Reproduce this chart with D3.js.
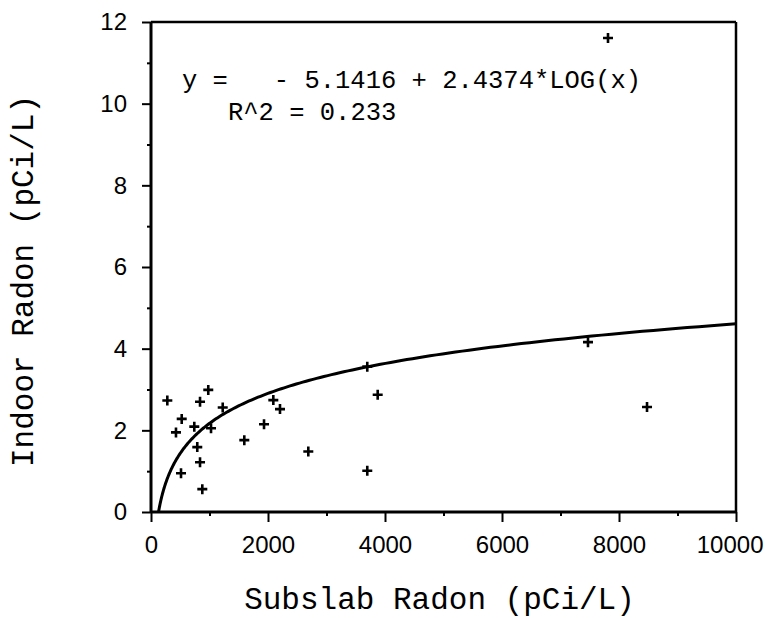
<!DOCTYPE html>
<html>
<head>
<meta charset="utf-8">
<script src="https://cdn.jsdelivr.net/npm/d3@7"></script>
<style>
  html, body { margin: 0; padding: 0; background: #fff; }
  svg { display: block; }
</style>
</head>
<body>
<svg id="chart" width="765" height="618"></svg>
<script>
// ---- data ----
const subslabRadon = [279, 979, 838, 1226, 525, 427, 740, 1026, 791, 838, 513, 877,
                      1595, 1932, 2091, 2205, 2689, 3697, 3875, 3697, 7470, 8479, 7812];
const indoorRadon  = [2.73, 2.99, 2.70, 2.56, 2.28, 1.95, 2.09, 2.05, 1.59, 1.22, 0.95, 0.56,
                      1.76, 2.15, 2.74, 2.52, 1.48, 3.56, 2.87, 1.01, 4.16, 2.57, 11.61];
const fitIntercept = -5.1416;
const fitSlope = 2.4374;           // y = a + b*log10(x)
const xMajorTicks = [0, 2000, 4000, 6000, 8000, 10000];
const xMinorTicks = [1000, 3000, 5000, 7000, 9000];
const yMajorTicks = [0, 2, 4, 6, 8, 10, 12];
const yMinorTicks = [1, 3, 5, 7, 9, 11];
const equationText = "y =   - 5.1416 + 2.4374*LOG(x)";
const r2Text = "R^2 = 0.233";
const xTitle = "Subslab Radon (pCi/L)";
const yTitle = "Indoor Radon (pCi/L)";

// ---- layout ----
const pL = 151, pR = 736, pT = 22, pB = 512;
const svg = d3.select("#chart");
const x = d3.scaleLinear().domain([0, 10000]).range([pL, pR]);
const y = d3.scaleLinear().domain([0, 12]).range([pB, pT]);

const tickFont = "'Liberation Sans', Arial, sans-serif";
const monoFont = "'Liberation Mono', 'Courier New', monospace";

// frame (top + right)
svg.append("line").attr("x1", pL).attr("x2", pR).attr("y1", pT).attr("y2", pT)
  .attr("stroke", "#000").attr("stroke-width", 2.5);
svg.append("line").attr("x1", pR).attr("x2", pR).attr("y1", pT).attr("y2", pB)
  .attr("stroke", "#000").attr("stroke-width", 2.5);

// x axis
const gxMaj = svg.append("g").attr("transform", `translate(0,${pB})`)
  .call(d3.axisBottom(x).tickValues(xMajorTicks).tickSize(10).tickPadding(25)
    .tickFormat(d3.format("d")));
const gxMin = svg.append("g").attr("transform", `translate(0,${pB})`)
  .call(d3.axisBottom(x).tickValues(xMinorTicks).tickSize(4).tickFormat(""));
// y axis
const gyMaj = svg.append("g").attr("transform", `translate(${pL},0)`)
  .call(d3.axisLeft(y).tickValues(yMajorTicks).tickSize(9).tickPadding(15)
    .tickFormat(d3.format("d")));
const gyMin = svg.append("g").attr("transform", `translate(${pL},0)`)
  .call(d3.axisLeft(y).tickValues(yMinorTicks).tickSize(4).tickFormat(""));

[gxMaj, gxMin, gyMaj, gyMin].forEach(g => {
  g.selectAll(".domain").attr("stroke", "#000").attr("stroke-width", 3);
  g.selectAll(".tick line").attr("stroke", "#000").attr("stroke-width", 2);
  g.selectAll(".tick text").attr("fill", "#000")
    .attr("font-family", tickFont).attr("font-size", 24);
});
gxMin.selectAll(".domain").remove();
gyMin.selectAll(".domain").remove();
gxMaj.selectAll(".domain").attr("d", `M${pL},0H${pR}`);
gyMaj.selectAll(".domain").attr("d", `M0,${pB}V${pT}`);
gxMaj.selectAll(".tick text").attr("dy", "0.25em");
// last label sits flush against the right edge, as in the reference
gxMaj.selectAll(".tick").filter(d => d === 10000).select("text")
  .attr("text-anchor", "end").attr("x", 763 - pR);

// fitted curve
const x0 = Math.pow(10, -fitIntercept / fitSlope);
const xs = d3.range(0, 201).map(i => Math.pow(10, Math.log10(x0) + i * (4 - Math.log10(x0)) / 200));
const line = d3.line()
  .x(d => x(d))
  .y(d => y(Math.max(0, fitIntercept + fitSlope * Math.log10(d))));
svg.append("path").datum(xs).attr("d", line)
  .attr("fill", "none").attr("stroke", "#000").attr("stroke-width", 3);

// points (+ markers)
const pts = subslabRadon.map((v, i) => [v, indoorRadon[i]]);
svg.append("g").selectAll("path").data(pts).join("path")
  .attr("d", d => {
    const cx = x(d[0]), cy = y(d[1]), r = 5;
    return `M${cx - r},${cy}H${cx + r}M${cx},${cy - r}V${cy + r}`;
  })
  .attr("stroke", "#000").attr("stroke-width", 2.6).attr("fill", "none");

// equation text
svg.append("text").attr("x", 182).attr("y", 88)
  .attr("font-family", monoFont).attr("font-size", 25.5)
  .style("white-space", "pre")
  .text(equationText);
svg.append("text").attr("x", 228).attr("y", 120)
  .attr("font-family", monoFont).attr("font-size", 25.5)
  .style("white-space", "pre")
  .text(r2Text);

// axis titles
svg.append("text").attr("x", (pL + pR) / 2 - 4).attr("y", 609)
  .attr("text-anchor", "middle")
  .attr("font-family", monoFont).attr("font-size", 31)
  .text(xTitle);
svg.append("text")
  .attr("transform", `translate(33,281) rotate(-90)`)
  .attr("text-anchor", "middle")
  .attr("font-family", monoFont).attr("font-size", 31)
  .text(yTitle);
</script>
</body>
</html>
